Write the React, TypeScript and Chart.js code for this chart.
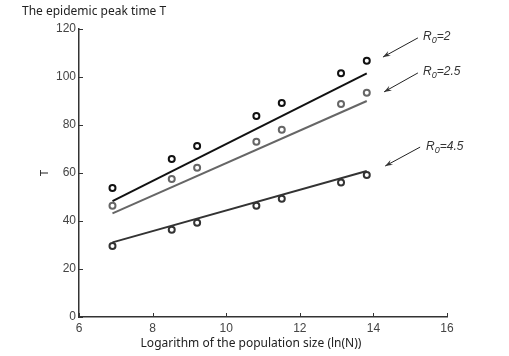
import React, { useEffect, useRef } from "react";
import { Chart, registerables } from "chart.js";

Chart.register(...registerables);

const lnN = [6.91, 8.52, 9.21, 10.82, 11.51, 13.12, 13.82];
const peakR2 = [53.7, 65.8, 71.2, 83.7, 89.2, 101.6, 106.8];
const peakR25 = [46.4, 57.5, 62.2, 73.0, 78.0, 88.7, 93.4];
const peakR45 = [29.6, 36.4, 39.3, 46.4, 49.3, 56.0, 59.2];

const fitX = [6.91, 13.82];
const fitR2 = [48.3, 101.5];
const fitR25 = [43.2, 90.0];
const fitR45 = [31.1, 60.8];

const r0Labels = ["2", "2.5", "4.5"];
const labelX = [15.35, 15.35, 15.43];
const labelY = [115.4, 100.8, 69.6];
const arrowTailX = [15.21, 15.21, 15.27];
const arrowTailY = [116.3, 101.7, 70.8];
const arrowTipX = [14.26, 14.29, 14.32];
const arrowTipY = [108.3, 93.8, 62.9];

const xTicks = [6, 8, 10, 12, 14, 16];
const yTicks = [0, 20, 40, 60, 80, 100, 120];

const colR2 = "#111111";
const colR25 = "#666666";
const colR45 = "#333333";

const pts = (xs: number[], ys: number[]) => xs.map((x, i) => ({ x, y: ys[i] }));

const overlay = {
  id: "overlay",
  afterDraw(chart: any) {
    const ctx = chart.ctx as CanvasRenderingContext2D;
    const xs = chart.scales.x;
    const ys = chart.scales.y;
    const area = chart.chartArea;
    ctx.save();
    // inward ticks
    ctx.strokeStyle = "#333";
    ctx.lineWidth = 1;
    xTicks.forEach((v) => {
      const px = Math.round(xs.getPixelForValue(v)) + 0.5;
      ctx.beginPath();
      ctx.moveTo(px, area.bottom);
      ctx.lineTo(px, area.bottom - 4);
      ctx.stroke();
    });
    yTicks.forEach((v) => {
      const py = Math.round(ys.getPixelForValue(v)) + 0.5;
      ctx.beginPath();
      ctx.moveTo(area.left, py);
      ctx.lineTo(area.left + 4, py);
      ctx.stroke();
    });
    // titles
    ctx.fillStyle = "#222";
    ctx.font = "12px 'Noto Sans'";
    ctx.textBaseline = "middle";
    ctx.textAlign = "left";
    ctx.fillText("The epidemic peak time T", 22, 12);
    ctx.textAlign = "center";
    ctx.fillText("Logarithm of the population size (ln(N))", 251, 344);
    ctx.save();
    ctx.translate(45, 173);
    ctx.rotate(-Math.PI / 2);
    ctx.font = "11px 'Noto Sans'";
    ctx.fillText("T", 0, 0);
    ctx.restore();
    // annotations
    ctx.strokeStyle = "#222";
    ctx.fillStyle = "#333";
    ctx.lineWidth = 1;
    r0Labels.forEach((lab, i) => {
      const tx = xs.getPixelForValue(arrowTailX[i]);
      const ty = ys.getPixelForValue(arrowTailY[i]);
      const hx = xs.getPixelForValue(arrowTipX[i]);
      const hy = ys.getPixelForValue(arrowTipY[i]);
      ctx.beginPath();
      ctx.moveTo(tx, ty);
      ctx.lineTo(hx, hy);
      ctx.stroke();
      const ang = Math.atan2(hy - ty, hx - tx);
      const L = 8;
      const w = 0.35;
      ctx.beginPath();
      ctx.moveTo(hx, hy);
      ctx.lineTo(hx - L * Math.cos(ang - w), hy - L * Math.sin(ang - w));
      ctx.lineTo(hx - L * 0.6 * Math.cos(ang), hy - L * 0.6 * Math.sin(ang));
      ctx.lineTo(hx - L * Math.cos(ang + w), hy - L * Math.sin(ang + w));
      ctx.closePath();
      ctx.fill();
      const lx = xs.getPixelForValue(labelX[i]);
      const ly = ys.getPixelForValue(labelY[i]);
      ctx.textAlign = "left";
      ctx.textBaseline = "alphabetic";
      ctx.font = "italic 12px 'Liberation Sans'";
      ctx.fillText("R", lx, ly);
      const rw = ctx.measureText("R").width;
      ctx.font = "italic 9px 'Liberation Sans'";
      ctx.fillText("0", lx + rw, ly + 3);
      const zw = ctx.measureText("0").width;
      ctx.font = "italic 12px 'Liberation Sans'";
      ctx.fillText("=" + lab, lx + rw + zw, ly);
    });
    ctx.restore();
  },
};

export default function App() {
  const ref = useRef<HTMLCanvasElement>(null);
  useEffect(() => {
    document.body.style.margin = "0";
    const scatter = (ys: number[], color: string) => ({
      type: "scatter" as const,
      data: pts(lnN, ys),
      showLine: false,
      pointStyle: "circle",
      pointRadius: 3,
      pointBorderWidth: 2,
      borderColor: color,
      backgroundColor: "rgba(255,255,255,0)",
    });
    const fit = (ys: number[], color: string, w: number) => ({
      type: "line" as const,
      data: pts(fitX, ys),
      borderColor: color,
      borderWidth: w,
      pointRadius: 0,
      fill: false,
    });
    const chart = new Chart(ref.current!, {
      type: "scatter",
      data: {
        datasets: [
          fit(fitR2, colR2, 2),
          fit(fitR25, colR25, 2),
          fit(fitR45, colR45, 2),
          scatter(peakR2, colR2),
          scatter(peakR25, colR25),
          scatter(peakR45, colR45),
        ] as any,
      },
      options: {
        animation: false,
        responsive: false,
        devicePixelRatio: 1,
        layout: { padding: { left: 0, top: 29, right: 62, bottom: 0 } },
        plugins: { legend: { display: false }, tooltip: { enabled: false }, title: { display: false } },
        scales: {
          x: {
            type: "linear",
            min: 6,
            max: 16,
            afterFit: (s: any) => { s.height = 39; },
            afterBuildTicks: (s: any) => { s.ticks = xTicks.map((v) => ({ value: v })); },
            grid: { display: false, drawTicks: false },
            border: { display: true, color: "#333", width: 1.5 },
            ticks: { color: "#444", font: { family: "'Liberation Sans'", size: 12 }, padding: 4 },
          },
          y: {
            type: "linear",
            min: 0,
            max: 120,
            afterFit: (s: any) => { s.width = 79; },
            afterBuildTicks: (s: any) => { s.ticks = yTicks.map((v) => ({ value: v })); },
            grid: { display: false, drawTicks: false },
            border: { display: true, color: "#333", width: 1.5 },
            ticks: { color: "#444", font: { family: "'Liberation Sans'", size: 12 }, padding: 3 },
          },
        },
      } as any,
      plugins: [overlay],
    });
    return () => chart.destroy();
  }, []);
  return <canvas ref={ref} width={509} height={356} style={{ display: "block" }} />;
}
